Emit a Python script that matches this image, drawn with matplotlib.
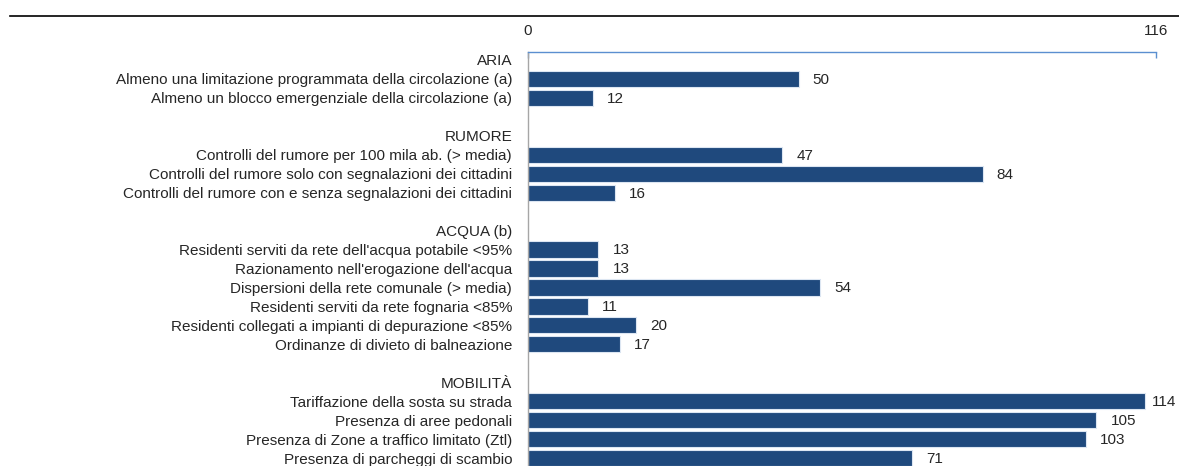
import matplotlib
matplotlib.use("Agg")
import matplotlib.pyplot as plt
from matplotlib.lines import Line2D

# data (group headings have no bar)
groups = ["ARIA", "RUMORE", "ACQUA (b)", "MOBILITÀ"]
aria_labels = ["Almeno una limitazione programmata della circolazione (a)",
               "Almeno un blocco emergenziale della circolazione (a)"]
aria_values = [50, 12]
rumore_labels = ["Controlli del rumore per 100 mila ab. (> media)",
                 "Controlli del rumore solo con segnalazioni dei cittadini",
                 "Controlli del rumore con e senza segnalazioni dei cittadini"]
rumore_values = [47, 84, 16]
acqua_labels = ["Residenti serviti da rete dell'acqua potabile <95%",
                "Razionamento nell'erogazione dell'acqua",
                "Dispersioni della rete comunale (> media)",
                "Residenti serviti da rete fognaria <85%",
                "Residenti collegati a impianti di depurazione <85%",
                "Ordinanze di divieto di balneazione"]
acqua_values = [13, 13, 54, 11, 20, 17]
mobilita_labels = ["Tariffazione della sosta su strada",
                   "Presenza di aree pedonali",
                   "Presenza di Zone a traffico limitato (Ztl)",
                   "Presenza di parcheggi di scambio"]
mobilita_values = [114, 105, 103, 71]
x_max = 116

plt.rcParams["font.family"] = ["Liberation Sans", "DejaVu Sans"]
fs = 11

# build rows: heading, items, blank
labels = []
values = []
blocks = [(aria_labels, aria_values), (rumore_labels, rumore_values),
          (acqua_labels, acqua_values), (mobilita_labels, mobilita_values)]
for g, (lab, val) in zip(groups, blocks):
    labels.append(g)
    values.append(None)
    labels += lab
    values += val
    labels.append("")
    values.append(None)
labels = labels[:-1]
values = values[:-1]

W, H = 1179, 466
fig = plt.figure(figsize=(W / 100, H / 100), dpi=100)
ax = fig.add_axes([528 / W, 0, (1156 - 528) / W, (H - 52) / H])

bar_color = "#1F497D"
for i, v in enumerate(values):
    if v is None:
        continue
    ax.barh(i, v, height=0.86, color=bar_color, edgecolor="#DCE6F2", linewidth=0.8)
    # labels near the right edge get pulled in, like the original
    ax.text(min(v + 2.6, x_max - 0.8), i + 0.05, str(v), va="center", ha="left",
            fontsize=fs, color="#262626")

ax.set_xlim(0, x_max)
ax.set_ylim(21.42, -0.42)
ax.set_yticks(range(len(labels)))
ax.set_yticklabels(labels, fontsize=fs, color="#262626")
ax.tick_params(axis="y", length=0, pad=11.5)

ax.xaxis.tick_top()
ax.set_xticks([0, x_max])
ax.set_xticklabels(["0", str(x_max)], fontsize=fs, color="#262626")
ax.tick_params(axis="x", direction="in", length=4, width=1, color="#5B8FD0", pad=10)

ax.spines["right"].set_visible(False)
ax.spines["bottom"].set_visible(False)
ax.spines["top"].set_color("#5B8FD0")
ax.spines["top"].set_linewidth(1)
ax.spines["left"].set_color("#A6A6A6")
ax.spines["left"].set_linewidth(1)
ax.set_facecolor("none")

# rule line at the top of the figure
fig.add_artist(Line2D([10 / W, 1], [1 - 16 / H, 1 - 16 / H], color="black", linewidth=1.2))

fig.savefig("out.png", dpi=100)
